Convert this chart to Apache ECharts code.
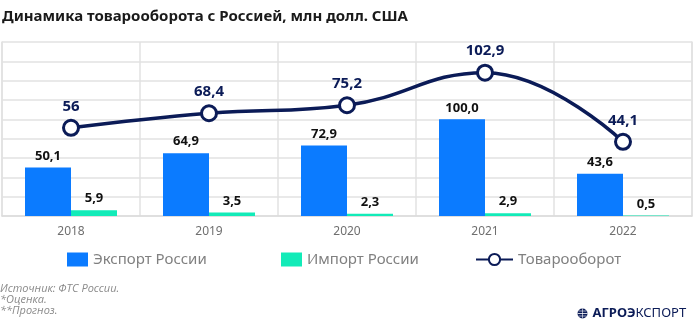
<!DOCTYPE html>
<html><head><meta charset="utf-8">
<script src="https://cdn.jsdelivr.net/npm/echarts@6/dist/echarts.min.js"></script>
<style>html,body{margin:0;padding:0;background:#fff}#c{width:695px;height:328px}</style>
</head><body><div id="c"></div>
<script>
const categories = ['2018', '2019', '2020', '2021', '2022'];
const exportValues = [50.1, 64.9, 72.9, 100.0, 43.6];
const importValues = [5.9, 3.5, 2.3, 2.9, 0.5];
const turnoverValues = [56, 68.4, 75.2, 102.9, 44.1];
const seriesNames = ['Экспорт России', 'Импорт России', 'Товарооборот'];
const titleText = 'Динамика товарооборота с Россией, млн долл. США';
const notes = ['Источник: ФТС России.', '*Оценка.', '**Прогноз.'];

const FONT = 'Noto Sans';
const NAVY = '#0b1b57';
const BLUE = '#0b7bff';
const MINT = '#12ebb8';
const GRID = '#e2e2e2';

const chart = echarts.init(document.getElementById('c'), null, {renderer: 'canvas'});
const legendText = {color: '#808080', fontSize: 15, fontFamily: FONT};
chart.setOption({
  animation: false,
  textStyle: {fontFamily: FONT},
  grid: {left: 2, right: 3, top: 42, bottom: 112, containLabel: false},
  legend: [
    {data: [seriesNames[0]], left: 62, top: 247, itemWidth: 21, itemHeight: 14, itemGap: 0, textStyle: legendText, icon: 'rect'},
    {data: [seriesNames[1]], left: 276, top: 247, itemWidth: 21, itemHeight: 14, textStyle: legendText, icon: 'rect'},
    {data: [seriesNames[2]], left: 470, top: 247, itemWidth: 37, itemHeight: 14, textStyle: legendText}
  ],
  xAxis: {
    type: 'category', data: categories,
    axisTick: {show: false},
    axisLine: {lineStyle: {color: '#dcdcdc', width: 1.5}},
    axisLabel: {color: '#6f6f6f', fontSize: 12, margin: 10, fontFamily: FONT},
    splitLine: {show: true, interval: 0, lineStyle: {color: GRID, width: 1.5}}
  },
  yAxis: [
    {type: 'value', min: 0, max: 180, interval: 20,
     axisLabel: {show: false}, axisTick: {show: false},
     axisLine: {show: true, lineStyle: {color: GRID, width: 1.5}},
     splitLine: {lineStyle: {color: GRID, width: 1.5}}},
    {type: 'value', min: -19, max: 129, position: 'right',
     axisLabel: {show: false}, axisTick: {show: false},
     axisLine: {show: true, lineStyle: {color: GRID, width: 1.5}},
     splitLine: {show: false}}
  ],
  series: [
    {name: seriesNames[0], type: 'bar', data: exportValues, barWidth: 46, barGap: '0%',
     itemStyle: {color: BLUE},
     label: {show: true, position: 'top', distance: 5, color: '#111', fontSize: 13, fontWeight: 'bold',
             formatter: p => p.value.toFixed(1).replace('.', ',')}},
    {name: seriesNames[1], type: 'bar', data: importValues, barWidth: 46,
     itemStyle: {color: MINT},
     label: {show: true, position: 'top', distance: 5, color: '#111', fontSize: 13, fontWeight: 'bold',
             formatter: p => p.value.toFixed(1).replace('.', ',')}},
    {name: seriesNames[2], type: 'line', yAxisIndex: 1, data: turnoverValues, smooth: 0.45,
     symbol: 'circle', symbolSize: 15,
     lineStyle: {color: NAVY, width: 3.5},
     itemStyle: {color: '#fff', borderColor: NAVY, borderWidth: 3},
     label: {show: true, position: 'top', distance: 5, color: NAVY, fontSize: 15, fontWeight: 'bold',
             formatter: p => String(p.value).replace('.', ',')},
     z: 5}
  ],
  graphic: [
    {type: 'text', left: 2, top: 9, style: {text: titleText, font: 'bold 15px "Noto Sans"', fill: '#1a1a1a'}},
    {type: 'text', left: 0, top: 283, style: {text: notes[0], font: 'italic 11px "Open Sans"', fill: '#8a8a8a'}},
    {type: 'text', left: 0, top: 294, style: {text: notes[1], font: 'italic 11px "Open Sans"', fill: '#8a8a8a'}},
    {type: 'text', left: 0, top: 305, style: {text: notes[2], font: 'italic 11px "Open Sans"', fill: '#8a8a8a'}},
    {type: 'group', left: 575, top: 306, children: [
      {type: 'circle', shape: {cx: 5, cy: 7, r: 5}, style: {fill: NAVY}},
      {type: 'line', shape: {x1: 0, y1: 7, x2: 10, y2: 7}, style: {stroke: '#fff', lineWidth: 0.8}},
      {type: 'line', shape: {x1: 1, y1: 4.5, x2: 9, y2: 4.5}, style: {stroke: '#fff', lineWidth: 0.6}},
      {type: 'line', shape: {x1: 1, y1: 9.5, x2: 9, y2: 9.5}, style: {stroke: '#fff', lineWidth: 0.6}},
      {type: 'line', shape: {x1: 5, y1: 2, x2: 5, y2: 12}, style: {stroke: '#fff', lineWidth: 0.6}},
      {type: 'text', x: 15, y: 0, style: {
        text: '{b|АГРОЭ}{n|КСПОРТ}',
        rich: {b: {fontFamily: FONT, fontWeight: 'bold', fontSize: 13, fill: NAVY, color: NAVY},
               n: {fontFamily: FONT, fontSize: 13, fill: NAVY, color: NAVY}}}}
    ]}
  ]
});
</script></body></html>
